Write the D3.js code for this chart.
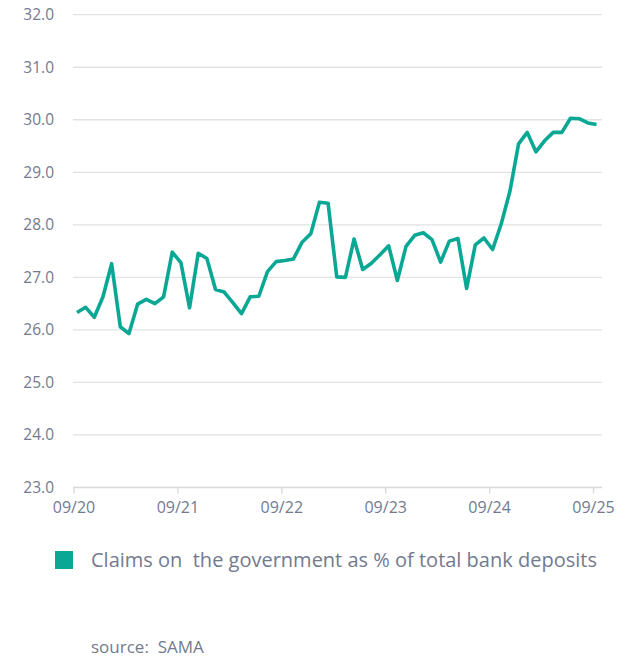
<!DOCTYPE html>
<html>
<head>
<meta charset="utf-8">
<script src="https://cdn.jsdelivr.net/npm/d3@7"></script>
<style>
  body { margin: 0; background: #fff; }
  text { font-family: "Open Sans", sans-serif; fill: #737a8e; white-space: pre; }
</style>
</head>
<body>
<div id="vis"></div>
<script>
// monthly data, 09/20 .. 09/25
let months = [];
for (let y = 20; y <= 25; y++) {
  for (let m = 1; m <= 12; m++) {
    if ((y == 20 && m < 9) || (y == 25 && m > 9)) continue;
    months.push(String(m).padStart(2, '0') + '/' + y);
  }
}

let claims = [
  26.33, 26.43, 26.24, 26.63, 27.26, 26.06, 25.93, 26.49, 26.58, 26.50, 26.63, 27.48,
  27.28, 26.42, 27.46, 27.36, 26.77, 26.72, 26.52, 26.31, 26.63, 26.64, 27.11, 27.30,
  27.32, 27.35, 27.67, 27.83, 28.43, 28.41, 27.01, 27.00, 27.73, 27.15, 27.27, 27.43,
  27.60, 26.94, 27.59, 27.80, 27.85, 27.72, 27.29, 27.69, 27.74, 26.79, 27.62, 27.75,
  27.53, 28.02, 28.64, 29.54, 29.76, 29.39, 29.60, 29.76, 29.76, 30.03, 30.02, 29.94,
  29.91
];

let yTicks = [23, 24, 25, 26, 27, 28, 29, 30, 31, 32];
let xTickLabels = ['09/20', '09/21', '09/22', '09/23', '09/24', '09/25'];
let seriesName = 'Claims on  the government as % of total bank deposits';
let sourceText = 'source:  SAMA';

let width = 635, height = 659;
let lineColor = '#0aa894';

let svg = d3.select('#vis')
  .append('svg')
  .attr('width', width)
  .attr('height', height);

let x = d3.scalePoint()
  .domain(months)
  .range([77, 596.5]);

let y = d3.scaleLinear()
  .domain([23, 32])
  .range([487.5, 14.7]);

// gridlines
svg.append('g')
  .selectAll('line')
  .data(yTicks.slice(1))
  .join('line')
  .attr('x1', 73)
  .attr('x2', 602)
  .attr('y1', d => y(d))
  .attr('y2', d => y(d))
  .attr('stroke', '#e2e2e2')
  .attr('stroke-width', 1.3);

// y labels
svg.append('g')
  .selectAll('text')
  .data(yTicks)
  .join('text')
  .attr('x', 54)
  .attr('y', d => y(d))
  .attr('dy', '0.35em')
  .attr('text-anchor', 'end')
  .style('font-size', '15.5px')
  .text(d => d.toFixed(1));

// x axis
let xAxis = svg.append('g')
  .attr('transform', 'translate(-3.5,' + y(23) + ')')
  .call(d3.axisBottom(x)
    .tickValues(xTickLabels)
    .tickSize(6)
    .tickPadding(8));

xAxis.select('.domain')
  .attr('d', 'M76.5,0H605.5')
  .attr('stroke', '#d8d8d8')
  .attr('stroke-width', 1.3);
xAxis.selectAll('.tick line').attr('stroke', '#d8d8d8').attr('stroke-width', 1.3);
xAxis.selectAll('.tick text')
  .style('font-size', '16px')
  .style('font-family', '"Open Sans", sans-serif')
  .attr('fill', '#737a8e');

// line
let line = d3.line()
  .x((d, i) => x(months[i]))
  .y(d => y(d));

svg.append('path')
  .datum(claims)
  .attr('d', line)
  .attr('fill', 'none')
  .attr('stroke', lineColor)
  .attr('stroke-width', 3.6)
  .attr('stroke-linejoin', 'round');

// legend
svg.append('rect')
  .attr('x', 55)
  .attr('y', 551)
  .attr('width', 18)
  .attr('height', 18)
  .attr('fill', lineColor);

svg.append('text')
  .attr('x', 91)
  .attr('y', 560)
  .attr('dy', '0.35em')
  .style('font-size', '20px')
  .text(seriesName);

svg.append('text')
  .attr('x', 91)
  .attr('y', 647)
  .attr('dy', '0.35em')
  .style('font-size', '17px')
  .text(sourceText);
</script>
</body>
</html>
